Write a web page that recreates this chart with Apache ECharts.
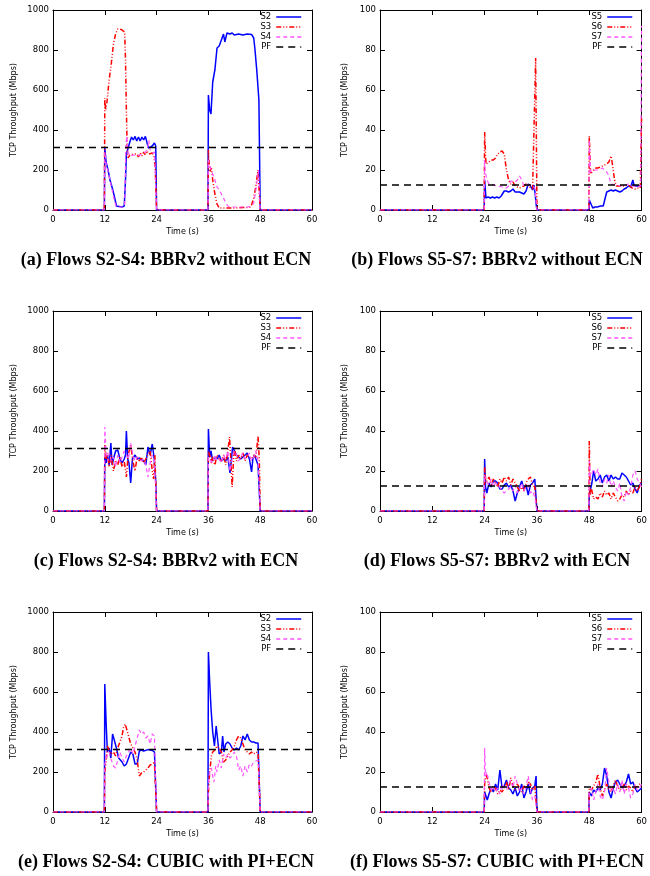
<!DOCTYPE html>
<html><head><meta charset="utf-8">
<script src="https://cdn.jsdelivr.net/npm/echarts@6/dist/echarts.min.js"></script>
<style>html,body{margin:0;padding:0;background:#fff}#c{width:650px;height:876px}</style>
</head><body><div id="c"></div>
<script>
// ---------- DATA ----------
const xTicks = [0, 12, 24, 36, 48, 60];
const leftNames = ['S2', 'S3', 'S4', 'PF'];
const rightNames = ['S5', 'S6', 'S7', 'PF'];
const pfLeft = [[0, 312.5], [60, 312.5]];
const pfRight = [[0, 12.5], [60, 12.5]];
const captions = [
  '(a) Flows S2-S4: BBRv2 without ECN', '(b) Flows S5-S7: BBRv2 without ECN',
  '(c) Flows S2-S4: BBRv2 with ECN', '(d) Flows S5-S7: BBRv2 with ECN',
  '(e) Flows S2-S4: CUBIC with PI+ECN', '(f) Flows S5-S7: CUBIC with PI+ECN'
];

// (a) BBRv2 without ECN, S2-S4
const aS2 = [[0,0],[11.9,0],[12,310],[12.3,240],[12.8,195],[13.2,150],[13.8,105],[14.3,60],[14.7,20],[15,15],[16,15],[16.5,20],[16.8,150],[17,280],[17.4,310],[17.8,340],[18.2,365],[18.6,350],[19,368],[19.4,345],[19.8,365],[20.2,345],[20.6,365],[21,350],[21.4,368],[21.8,365],[22.1,310],[22.5,300],[23,320],[23.5,335],[23.8,320],[24,0],[35.9,0],[36,575],[36.3,500],[36.6,480],[37,640],[37.5,700],[38,810],[38.5,820],[39,850],[39.5,880],[39.8,840],[40.3,885],[41,880],[41.5,885],[42,875],[43,880],[44,875],[45,880],[46,878],[46.5,860],[46.8,800],[47.2,700],[47.7,550],[48,0],[60,0]];
const aS3 = [[0,0],[11.9,0],[12,560],[12.2,500],[12.5,540],[13,650],[13.5,730],[14,830],[14.5,880],[15,905],[15.5,905],[16,900],[16.3,910],[16.6,890],[16.8,750],[17,500],[17.2,300],[17.4,260],[17.8,275],[18.2,265],[18.6,280],[19,270],[19.4,280],[19.8,265],[20.2,285],[20.6,270],[21,290],[21.4,275],[21.8,295],[22.2,280],[22.6,290],[23,285],[23.4,270],[23.7,200],[24,0],[35.9,0],[36,300],[36.3,190],[36.7,210],[37,150],[37.5,80],[38,30],[38.5,10],[40,10],[42,10],[44,12],[45.5,12],[46,25],[46.5,60],[47,120],[47.5,200],[47.7,205],[48,0],[60,0]];
const aS4 = [[0,0],[11.9,0],[12,290],[12.3,230],[12.8,190],[13.3,140],[13.8,90],[14.3,40],[14.7,15],[16,15],[16.6,20],[16.9,330],[17.1,370],[17.4,290],[17.8,270],[18.2,260],[18.6,275],[19,265],[19.4,270],[19.8,260],[20.2,275],[20.6,265],[21,280],[21.4,270],[21.8,300],[22.2,350],[22.5,300],[23,285],[23.5,290],[23.8,280],[24,0],[35.9,0],[36,250],[36.2,230],[36.5,210],[37,180],[37.5,150],[38,115],[38.5,100],[39,80],[39.5,60],[40,35],[40.5,20],[41,15],[43,15],[45,15],[46,20],[46.5,35],[47,100],[47.6,200],[47.8,190],[48,0],[60,0]];

// (b) BBRv2 without ECN, S5-S7
const bS5 = [[0,0],[23.9,0],[24,15],[24.3,6],[24.8,6.5],[25.3,6],[25.8,6.5],[26.3,6],[26.8,6.5],[27.3,6],[27.8,7],[28.2,8],[28.5,9.5],[29,9.5],[29.5,9],[30,9.5],[30.5,10.5],[31,9],[31.5,9],[32,9],[32.5,8.5],[33,8],[33.5,9.5],[34,13],[34.5,12],[35,10],[35.3,12.5],[35.6,8],[35.8,3],[36,0],[47.9,0],[48,5],[48.3,4],[48.8,1],[49,0],[49.3,1.5],[49.8,1.5],[50.2,0.5],[50.6,2],[51.2,2],[51.6,2],[52,9],[52.5,9.5],[53,10],[53.5,9.5],[54,10],[54.5,9.5],[55,9],[55.5,9.5],[56,10.5],[56.5,11],[57,12],[57.5,11.5],[58,15],[58.3,12],[59,12],[60,12]];
const bS6 = [[0,0],[23.9,0],[24,39],[24.3,23],[25,24],[25.5,25],[26,25],[26.5,26],[27,28],[27.5,29],[28,29.5],[28.5,28],[29,20],[29.5,15],[30,13],[30.5,14],[31,12],[31.5,11.5],[32,11],[32.5,11.5],[33,12],[33.5,13],[34,13],[34.5,11],[35,10.5],[35.4,11],[35.7,76],[35.85,40],[36,0],[47.9,0],[48,37],[48.3,18],[49,20],[49.5,21],[50,21],[50.5,21.5],[51,22],[51.5,22.5],[52,23],[52.5,24],[53,27],[53.3,23],[53.8,15],[54.2,12],[55,12],[56,12],[57,12.5],[57.3,13],[57.8,11],[58.5,10.5],[59,11],[59.7,11],[60,47]];
const bS7 = [[0,0],[23.9,0],[24,25],[24.1,20],[24.5,15],[25,13],[26,12.5],[27,12],[28,11.5],[29,11],[29.5,12],[30,14.5],[31,14],[31.5,15],[32,17],[32.5,15],[33,12],[34,12.5],[35,12],[35.5,11],[36,0],[47.9,0],[48,35],[48.3,19],[49,20],[50,20],[51,21],[52,19],[52.5,17],[53,13],[54,12.5],[55,12],[56,12],[57,13],[58,12],[59,11.5],[59.8,12],[60,92]];

// (c) BBRv2 with ECN, S2-S4
const cS2 = [[0,0],[11.9,0],[12,270],[12.3,240],[12.6,280],[13,230],[13.4,340],[13.7,230],[14,260],[14.5,300],[15,305],[15.5,260],[16,240],[16.5,260],[16.8,280],[17,400],[17.3,260],[17.6,240],[18,140],[18.4,260],[19,280],[19.5,260],[20,265],[20.5,255],[21,250],[21.5,230],[22,320],[22.5,280],[23,335],[23.4,270],[23.8,150],[24,0],[35.9,0],[36,410],[36.3,270],[36.6,300],[37,250],[37.5,270],[38,260],[38.5,280],[39,250],[39.5,260],[40,250],[40.5,270],[41,190],[41.3,250],[41.6,320],[42,310],[42.5,280],[43,270],[43.5,260],[44,270],[44.5,280],[45,290],[45.5,260],[46,195],[46.3,260],[46.7,280],[47,260],[47.5,230],[48,0],[60,0]];
const cS3 = [[0,0],[11.9,0],[12,330],[12.3,260],[12.6,290],[13,220],[13.5,280],[14,200],[14.5,250],[15,230],[15.5,270],[16,220],[16.5,250],[17,170],[17.4,280],[18,330],[18.5,250],[19,200],[19.5,270],[20,250],[20.5,270],[21,240],[21.5,260],[22,280],[22.5,300],[23,200],[23.3,160],[23.6,280],[24,0],[35.9,0],[36,300],[36.3,280],[36.7,240],[37,270],[37.5,230],[38,280],[38.5,260],[39,250],[39.5,280],[40,230],[40.5,300],[40.9,370],[41.2,250],[41.5,120],[41.8,250],[42,320],[42.5,250],[43,280],[43.5,260],[44,290],[44.5,250],[45,280],[45.5,270],[46,260],[46.5,280],[47,270],[47.5,375],[47.8,250],[48,0],[60,0]];
const cS4 = [[0,0],[11.9,0],[12,420],[12.3,300],[12.7,250],[13,290],[13.5,250],[14,270],[14.5,220],[15,280],[15.5,240],[16,270],[16.5,300],[17,280],[17.5,260],[18,340],[18.5,280],[19,250],[19.5,270],[20,260],[20.5,250],[21,260],[21.5,230],[22,170],[22.5,240],[23,280],[23.5,250],[24,0],[35.9,0],[36,270],[36.5,250],[37,240],[37.5,280],[38,250],[38.5,260],[39,240],[39.5,280],[40,260],[40.5,300],[41,200],[41.5,260],[42,300],[42.5,280],[43,250],[43.5,270],[44,290],[44.5,260],[45,270],[45.5,290],[46,250],[46.5,270],[47,300],[47.5,250],[48,0],[60,0]];

// (d) BBRv2 with ECN, S5-S7
const dS5 = [[0,0],[23.9,0],[24,26],[24.2,12],[24.5,9],[25,14],[25.5,12],[26,15],[26.5,15],[27,14],[27.5,11],[28,11],[28.5,13],[29,14],[29.5,12],[30,13],[30.5,10],[31,5],[31.5,9],[32,12],[32.5,15],[33,11],[33.5,13],[34,8],[34.5,13],[35,14],[35.5,16],[35.8,15],[36,0],[47.9,0],[48,8],[48.3,11],[48.6,14],[49,20],[49.5,15],[50,16],[50.5,18],[51,14],[51.5,17],[52,18],[52.5,15],[53,18],[53.5,16],[54,17],[54.5,16],[55,16],[55.5,19],[56,18],[56.5,17],[57,15],[57.5,13],[58,14],[58.5,11],[59,9],[59.5,13],[60,14]];
const dS6 = [[0,0],[23.9,0],[24,22],[24.3,14],[24.7,15],[25,17],[25.5,13],[26,16],[26.5,14],[27,12],[27.5,16],[28,14],[28.5,17],[29,15],[29.5,17],[30,13],[30.5,16],[31,14],[31.5,12],[32,10],[32.5,12],[33,10],[33.5,14],[34,16],[34.5,17],[35,13],[35.5,12],[36,0],[47.9,0],[48,35],[48.2,8],[48.5,11],[49,6],[49.5,7],[50,6],[50.5,9],[51,7],[51.5,10],[52,8],[52.5,9],[53,6],[53.5,9],[54,7],[54.5,5],[55,6],[55.5,8],[56,7],[56.5,10],[57,8],[57.5,10],[58,9],[58.5,12],[59,10],[59.5,12],[60,16]];
const dS7 = [[0,0],[23.9,0],[24,18],[24.3,15],[25,13],[25.5,16],[26,12],[26.5,14],[27,13],[27.5,12],[28,10],[28.5,9],[29,10],[29.5,11],[30,12],[30.5,10],[31,13],[31.5,9],[32,11],[32.5,14],[33,10],[33.5,12],[34,13],[34.5,9],[35,10],[35.5,7],[36,0],[47.9,0],[48,25],[48.3,17],[49,21],[49.5,18],[50,21],[50.5,14],[51,12],[51.5,16],[52,14],[52.5,18],[53,12],[53.5,15],[54,12],[54.5,10],[55,14],[55.5,7],[56,5],[56.5,10],[57,8],[57.5,12],[58,18],[58.5,20],[59,16],[59.5,14],[60,12]];

// (e) CUBIC with PI+ECN, S2-S4
const eS2 = [[0,0],[11.9,0],[12,640],[12.3,450],[12.6,300],[13,320],[13.4,270],[13.8,390],[14.2,360],[14.5,370],[14.8,310],[15.2,270],[15.6,280],[16,250],[16.5,230],[17,240],[17.5,270],[18,300],[18.5,290],[19,240],[19.5,240],[20,305],[20.5,310],[21,305],[22,312],[23,308],[23.5,300],[24,0],[35.9,0],[36,800],[36.3,650],[36.6,520],[37,400],[37.4,330],[37.8,430],[38.2,350],[38.5,290],[39,300],[39.3,380],[39.6,300],[40,340],[40.5,350],[41,340],[41.5,320],[42,310],[42.5,320],[43,310],[43.5,330],[44,380],[44.5,360],[45,390],[45.5,360],[46,350],[46.5,350],[47,345],[47.5,345],[48,0],[60,0]];
const eS3 = [[0,0],[11.9,0],[12,200],[12.3,250],[12.6,330],[13,340],[13.4,290],[14,300],[14.5,280],[15,320],[15.5,350],[16,380],[16.3,420],[16.7,440],[17,420],[17.5,380],[18,340],[18.5,320],[19,300],[19.5,260],[20,180],[20.5,195],[21,200],[21.5,210],[22,220],[22.5,235],[23,240],[23.5,250],[24,0],[35.9,0],[36,100],[36.3,200],[36.7,280],[37,300],[37.5,310],[38,330],[38.5,320],[39,300],[39.5,250],[40,260],[40.5,280],[41,300],[41.5,310],[42,330],[42.5,360],[43,380],[43.5,370],[44,340],[44.5,310],[45,300],[45.5,290],[46,300],[46.5,290],[47,300],[47.5,295],[48,0],[60,0]];
const eS4 = [[0,0],[11.9,0],[12,240],[12.5,280],[13,300],[13.5,260],[14,230],[14.5,220],[15,260],[15.5,300],[16,270],[16.5,250],[17,280],[17.5,300],[18,320],[18.5,290],[19,330],[19.5,370],[20,410],[20.5,390],[21,400],[21.5,370],[22,380],[22.5,340],[23,390],[23.5,380],[24,0],[35.9,0],[36,140],[36.3,200],[36.7,220],[37,180],[37.3,150],[37.7,230],[38,200],[38.5,260],[39,220],[39.5,290],[40,270],[40.5,290],[41,270],[41.5,280],[42,300],[42.5,280],[43,210],[43.5,230],[44,180],[44.5,230],[45,200],[45.5,240],[46,230],[46.5,250],[47,255],[47.5,260],[48,0],[60,0]];

// (f) CUBIC with PI+ECN, S5-S7
const fS5 = [[0,0],[23.9,0],[24,10],[24.3,8],[24.6,6],[25,9],[25.5,12],[26,10],[26.5,14],[27,11],[27.5,21],[28,12],[28.5,13],[29,16],[29.5,12],[30,11],[30.5,9],[31,12],[31.5,8],[32,10],[32.5,14],[33,7],[33.5,10],[34,14],[34.5,9],[35,12],[35.5,13],[35.8,18],[36,0],[47.9,0],[48,10],[48.5,8],[49,11],[49.5,10],[50,12],[50.5,11],[51,14],[51.5,22],[52,18],[52.5,10],[53,7],[53.5,12],[54,15],[54.5,16],[55,14],[55.5,12],[56,13],[56.5,15],[57,19],[57.5,14],[58,15],[58.5,12],[59,10],[59.5,11],[60,12]];
const fS6 = [[0,0],[23.9,0],[24,14],[24.3,19],[24.6,17],[25,12],[25.5,10],[26,13],[26.5,12],[27,9],[27.5,11],[28,10],[28.5,12],[29,15],[29.5,11],[30,17],[30.5,13],[31,11],[31.5,14],[32,12],[32.5,10],[33,13],[33.5,12],[34,15],[34.5,14],[35,11],[35.5,13],[36,0],[47.9,0],[48,12],[48.5,11],[49,13],[49.5,15],[50,19],[50.5,12],[51,8],[51.5,11],[52,14],[52.5,11],[53,10],[53.5,13],[54,16],[54.5,13],[55,11],[55.5,12],[56,14],[56.5,11],[57,13],[57.5,12],[58,10],[58.5,13],[59,12],[59.5,14],[60,13]];
const fS7 = [[0,0],[23.9,0],[24,32],[24.2,18],[24.5,20],[25,15],[25.5,11],[26,13],[26.5,10],[27,12],[27.5,9],[28,14],[28.5,12],[29,11],[29.5,14],[30,16],[30.5,12],[31,18],[31.5,14],[32,10],[32.5,12],[33,9],[33.5,13],[34,18],[34.5,11],[35,6],[35.5,8],[36,0],[47.9,0],[48,9],[48.5,12],[49,6],[49.5,10],[50,14],[50.5,8],[51,6],[51.5,10],[52,22],[52.5,15],[53,10],[53.5,12],[54,9],[54.5,14],[55,10],[55.5,16],[56,9],[56.5,14],[57,12],[57.5,7],[58,9],[58.5,14],[59,11],[59.5,12],[60,14]];

// ---------- LAYOUT / STYLE ----------
const FONT = 'DejaVu Sans';
const styles = [
  {color: '#0000ff', width: 1.5, type: 'solid'},
  {color: '#ff0000', width: 1.5, type: [5, 2, 1, 2, 1, 2]},
  {color: '#ff55ff', width: 1.2, type: [4, 3]},
  {color: '#000000', width: 1.5, type: [7, 5]}
];
const rowsTop = [10, 311, 612];
const capY = [260, 561, 862];
const cols = [
  {left: 53, width: 259, ymax: 1000, yint: 200, names: leftNames, pf: pfLeft, legRight: 348, nameGap: 35, capX: 166},
  {left: 380, width: 264, ymax: 100, yint: 20, names: rightNames, pf: pfRight, legRight: 17, nameGap: 31, capX: 497}
];
const panelData = [[aS2, aS3, aS4], [bS5, bS6, bS7], [cS2, cS3, cS4], [dS5, dS6, dS7], [eS2, eS3, eS4], [fS5, fS6, fS7]];

const grid = [], xAxis = [], yAxis = [], series = [], legend = [], graphic = [];
const axLine = {show: true, onZero: false, lineStyle: {color: '#000', width: 1}};
const axTick = {show: true, inside: true, length: 5, lineStyle: {color: '#000', width: 1}};
panelData.forEach((pd, i) => {
  const row = Math.floor(i / 2), col = cols[i % 2];
  const top = rowsTop[row];
  grid.push({left: col.left, top: top, width: col.width, height: 200, containLabel: false});
  xAxis.push({type: 'value', gridIndex: i, min: 0, max: 60, interval: 12, position: 'bottom',
    axisLine: axLine, axisTick: axTick, splitLine: {show: false},
    axisLabel: {fontFamily: FONT, fontSize: 8.5, color: '#000', margin: 5,
      formatter: v => xTicks.includes(v) ? String(v) : ''},
    name: 'Time (s)', nameLocation: 'middle', nameGap: 18,
    nameTextStyle: {fontFamily: FONT, fontSize: 8, color: '#000'}});
  xAxis.push({type: 'value', gridIndex: i, min: 0, max: 60, interval: 12, position: 'top',
    axisLine: axLine, axisTick: axTick, splitLine: {show: false}, axisLabel: {show: false}});
  yAxis.push({type: 'value', gridIndex: i, min: 0, max: col.ymax, interval: col.yint, position: 'left',
    axisLine: axLine, axisTick: axTick, splitLine: {show: false},
    axisLabel: {fontFamily: FONT, fontSize: 8.5, color: '#000', margin: 4, formatter: v => String(v)},
    name: 'TCP Throughput (Mbps)', nameLocation: 'middle', nameGap: col.nameGap,
    nameTextStyle: {fontFamily: FONT, fontSize: 8, color: '#000'}});
  yAxis.push({type: 'value', gridIndex: i, min: 0, max: col.ymax, interval: col.yint, position: 'right',
    axisLine: axLine, axisTick: axTick, splitLine: {show: false}, axisLabel: {show: false}});
  const all = pd.concat([col.pf]);
  all.forEach((d, k) => {
    series.push({type: 'line', name: col.names[k], xAxisIndex: 2 * i, yAxisIndex: 2 * i,
      data: d, symbol: 'none', showSymbol: false, smooth: false, silent: true,
      lineStyle: {color: styles[k].color, width: styles[k].width, type: styles[k].type},
      itemStyle: {color: styles[k].color}, z: 2 + k});
  });
  legend.push({data: col.names, orient: 'vertical', align: 'right', right: col.legRight, top: top + 2,
    itemWidth: 25, itemHeight: 10, itemGap: 0, padding: 0, selectedMode: false,
    itemStyle: {opacity: 0}, lineStyle: {width: 1.5},
    textStyle: {fontFamily: FONT, fontSize: 8.5, color: '#000', lineHeight: 10}});
  graphic.push({type: 'text', x: col.capX, y: capY[row],
    style: {text: captions[i], font: 'bold 18px "Liberation Serif", serif', fill: '#000',
      align: 'center', verticalAlign: 'middle', textAlign: 'center', textVerticalAlign: 'middle'}});
});

const chart = echarts.init(document.getElementById('c'), null, {renderer: 'canvas'});
chart.setOption({animation: false, backgroundColor: '#fff', grid, xAxis, yAxis, series, legend, graphic});
</script></body></html>
